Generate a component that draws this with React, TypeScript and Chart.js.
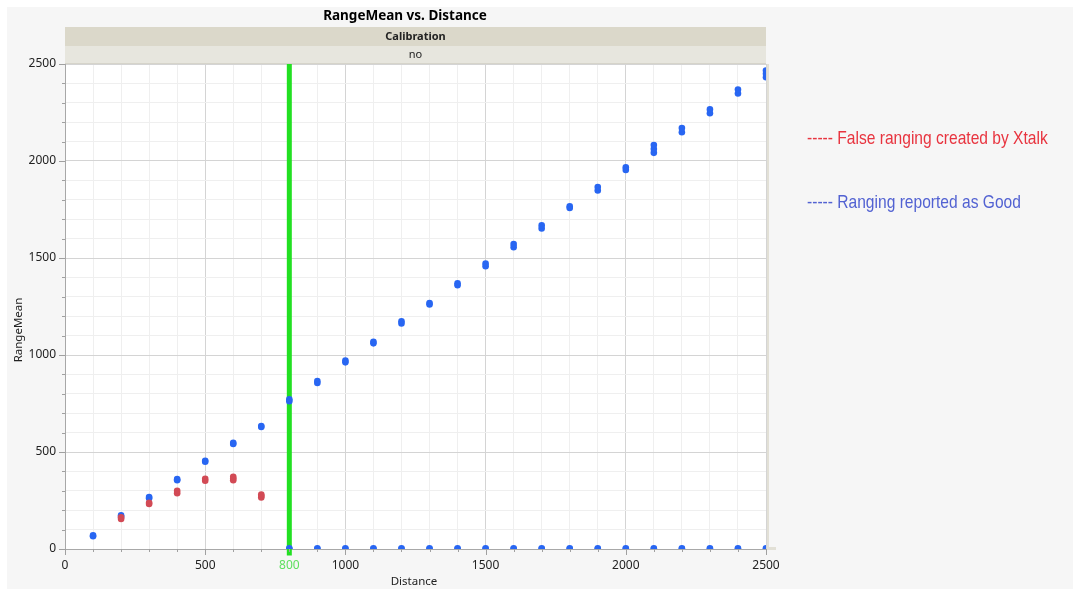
import React, { useEffect, useRef } from 'react';
import { Chart, registerables } from 'chart.js';

Chart.register(...registerables);

// ---------- data ----------
const DISTANCES = [100, 200, 300, 400, 500, 600, 700, 800, 900, 1000, 1100, 1200, 1300, 1400, 1500, 1600, 1700, 1800, 1900, 2000, 2100, 2200, 2300, 2400, 2500];
const GOOD_RANGES: number[][] = [
  [66, 70], [166, 174], [262, 268], [354, 360], [450, 455], [541, 547], [629, 634], [762, 772],
  [856, 866], [962, 972], [1060, 1068], [1162, 1174], [1260, 1268], [1360, 1370], [1458, 1472],
  [1556, 1572], [1652, 1668], [1758, 1766], [1848, 1866], [1954, 1968], [2042, 2062, 2082],
  [2148, 2170], [2246, 2266], [2348, 2368], [2432, 2450, 2466],
];
const ZERO_DISTANCES = [800, 900, 1000, 1100, 1200, 1300, 1400, 1500, 1600, 1700, 1800, 1900, 2000, 2100, 2200, 2300, 2400, 2500];
const ZERO_RANGES = [0, 3];
const XTALK_DISTANCES = [200, 300, 400, 500, 600, 700];
const XTALK_RANGES: number[][] = [[155, 163], [232, 238], [288, 300], [352, 362], [355, 363, 372], [266, 273, 281]];
const X_TICK_LABELS = [0, 500, 800, 1000, 1500, 2000, 2500];
const Y_TICK_LABELS = [0, 500, 1000, 1500, 2000, 2500];
const REF_LINE_X = 800;
const REF_LINE_Y = [-33, 2500];

const TITLE = 'RangeMean vs. Distance';
const GROUP_TITLE = 'Calibration';
const GROUP_VALUE = 'no';
const X_TITLE = 'Distance';
const Y_TITLE = 'RangeMean';
const LEGEND_RED = '----- False ranging created by Xtalk';
const LEGEND_BLUE = '----- Ranging reported as Good';

const W = 1080;
const H = 591;
const FONT = '"Noto Sans", "DejaVu Sans", sans-serif';

export default function App() {
  const ref = useRef<HTMLCanvasElement | null>(null);

  useEffect(() => {
    if (!ref.current) return;
    const goodPts = [
      ...DISTANCES.flatMap((d, i) => GOOD_RANGES[i].map((v) => ({ x: d, y: v }))),
      ...ZERO_DISTANCES.flatMap((d) => ZERO_RANGES.map((v) => ({ x: d, y: v }))),
    ];
    const xtalkPts = XTALK_DISTANCES.flatMap((d, i) => XTALK_RANGES[i].map((v) => ({ x: d, y: v })));
    const refPts = REF_LINE_Y.map((v) => ({ x: REF_LINE_X, y: v }));

    const deco = {
      id: 'deco',
      beforeDraw(chart: any) {
        const { ctx, chartArea: a } = chart;
        ctx.save();
        ctx.fillStyle = '#ffffff';
        ctx.fillRect(0, 0, W, H);
        ctx.fillStyle = '#f6f6f6';
        ctx.fillRect(7, 7, 1066, 582);
        ctx.fillStyle = '#ffffff';
        ctx.fillRect(a.left, a.top, a.right - a.left, a.bottom - a.top);
        // header bands
        ctx.fillStyle = '#dbd8ca';
        ctx.fillRect(a.left, 27, a.right - a.left, 19);
        ctx.fillStyle = '#e7e6de';
        ctx.fillRect(a.left, 46, a.right - a.left, 17);
        ctx.fillStyle = '#d6d4ca';
        ctx.fillRect(a.left, 63, a.right - a.left, 1);
        const cx = (a.left + a.right) / 2;
        ctx.fillStyle = '#000000';
        ctx.textAlign = 'center';
        ctx.textBaseline = 'middle';
        ctx.font = `bold 13.5px ${FONT}`;
        ctx.fillText(TITLE, 405, 16);
        ctx.fillStyle = '#222222';
        ctx.font = `bold 11px ${FONT}`;
        ctx.fillText(GROUP_TITLE, cx, 37);
        ctx.font = `11px ${FONT}`;
        ctx.fillText(GROUP_VALUE, cx, 55);
        // axis titles
        ctx.font = `11.5px ${FONT}`;
        ctx.fillText(X_TITLE, 414, 582);
        ctx.save();
        ctx.translate(19, 330);
        ctx.rotate(-Math.PI / 2);
        ctx.fillText(Y_TITLE, 0, 0);
        ctx.restore();
        ctx.restore();
      },
      afterDraw(chart: any) {
        const { ctx, chartArea: a, scales } = chart;
        ctx.save();
        ctx.strokeStyle = '#a0a0a0';
        ctx.lineWidth = 1;
        ctx.beginPath();
        for (let v = 0; v <= 2500; v += 100) {
          const len = v % 500 === 0 ? 6 : 3;
          const px = Math.round(scales.x.getPixelForValue(v)) + 0.5;
          ctx.moveTo(px, a.bottom);
          ctx.lineTo(px, a.bottom + len);
          const py = Math.round(scales.y.getPixelForValue(v)) + 0.5;
          ctx.moveTo(a.left, py);
          ctx.lineTo(a.left - len, py);
        }
        ctx.stroke();
        // right frame strip
        ctx.fillStyle = '#e2e0d6';
        ctx.fillRect(a.right + 1, a.top, 2, a.bottom - a.top);
        ctx.fillRect(a.right + 1, a.bottom - 2, 9, 3);
        ctx.restore();
      },
    };

    const chart = new Chart(ref.current, {
      type: 'scatter',
      data: {
        datasets: [
          {
            label: 'Xtalk',
            data: xtalkPts,
            backgroundColor: '#d24a55',
            borderWidth: 0,
            pointRadius: 3.3,
            clip: 0,
          } as any,
          {
            label: 'Good',
            data: goodPts,
            backgroundColor: '#2866f2',
            borderWidth: 0,
            pointRadius: 3.3,
            clip: 0,
          } as any,
          {
            type: 'line',
            label: 'Ref',
            data: refPts,
            borderColor: '#22e022',
            borderWidth: 5,
            pointRadius: 0,
            showLine: true,
            clip: false,
          } as any,
        ],
      },
      options: {
        animation: false,
        responsive: false,
        devicePixelRatio: 1,
        layout: { padding: { left: 25, right: 314, top: 64, bottom: 12 } },
        plugins: { legend: { display: false }, tooltip: { enabled: false }, title: { display: false } },
        scales: {
          x: {
            type: 'linear',
            min: 0,
            max: 2500,
            afterFit: (s: any) => { s.height = 30; },
            ticks: {
              stepSize: 100,
              autoSkip: false,
              maxRotation: 0,
              padding: 2,
              font: { family: FONT, size: 12 },
              color: (c: any) => (c.tick && c.tick.value === REF_LINE_X ? '#5ee05e' : '#222222'),
              callback: (v: any) => (X_TICK_LABELS.includes(Number(v)) ? String(v) : ''),
            },
            grid: {
              color: (c: any) => (c.tick && c.tick.value % 500 === 0 ? '#d4d4d4' : '#efefef'),
              tickLength: 7,
              tickColor: 'rgba(0,0,0,0)',
            },
            border: { color: '#a8a8a8', width: 1 },
          },
          y: {
            type: 'linear',
            min: 0,
            max: 2500,
            afterFit: (s: any) => { s.width = 40; },
            ticks: {
              stepSize: 100,
              autoSkip: false,
              padding: 2,
              font: { family: FONT, size: 12 },
              color: '#222222',
              callback: (v: any) => (Y_TICK_LABELS.includes(Number(v)) ? String(v) : ''),
            },
            grid: {
              color: (c: any) => (c.tick && c.tick.value % 500 === 0 ? '#d4d4d4' : '#efefef'),
              tickLength: 7,
              tickColor: 'rgba(0,0,0,0)',
            },
            border: { color: '#a8a8a8', width: 1 },
          },
        },
      } as any,
      plugins: [deco],
    });
    return () => chart.destroy();
  }, []);

  const legendStyle: React.CSSProperties = {
    position: 'absolute',
    left: 807,
    fontFamily: '"Liberation Sans", Arial, sans-serif',
    fontSize: 19,
    lineHeight: '19px',
    whiteSpace: 'nowrap',
    transform: 'scaleX(0.82)',
    transformOrigin: 'left center',
  };

  return (
    <div style={{ position: 'fixed', left: 0, top: 0, width: W, height: H, background: '#ffffff' }}>
      <canvas ref={ref} width={W} height={H} style={{ width: W, height: H, display: 'block' }} />
      <div style={{ ...legendStyle, top: 128, color: '#e8343f' }}>{LEGEND_RED}</div>
      <div style={{ ...legendStyle, top: 192, color: '#5262d2' }}>{LEGEND_BLUE}</div>
    </div>
  );
}
